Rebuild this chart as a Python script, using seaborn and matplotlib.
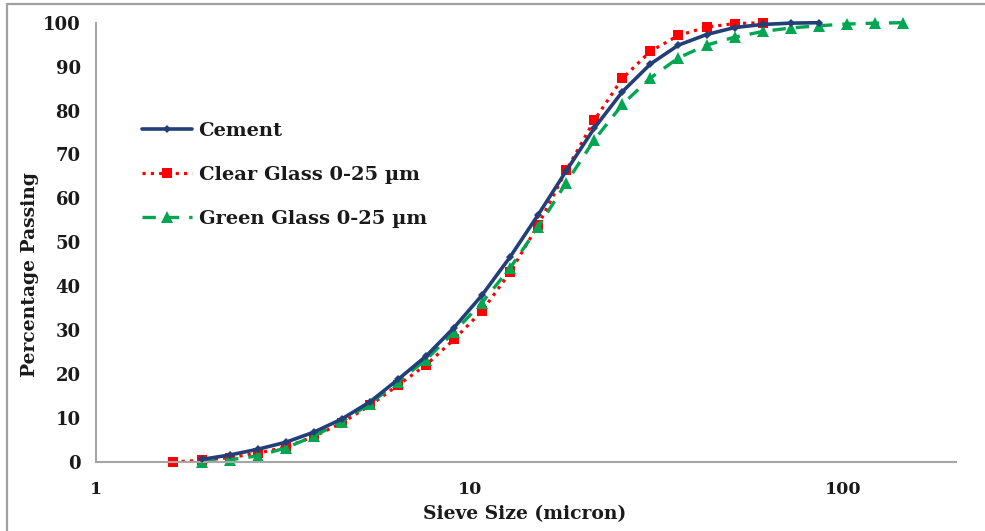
import matplotlib
matplotlib.use("Agg")
import matplotlib.pyplot as plt
from matplotlib.lines import Line2D
from matplotlib.ticker import FixedLocator, NullFormatter
import seaborn as sns
import pandas as pd

# Particle size channels (micron)
sizes = [1.61, 1.92, 2.28, 2.71, 3.22, 3.83, 4.55, 5.41, 6.43, 7.64, 9.08,
         10.79, 12.83, 15.25, 18.13, 21.54, 25.61, 30.44, 36.18, 43.0,
         51.1, 60.8, 72.2, 85.8, 102.0, 121.3, 144.1]

# Cumulative percentage passing
cement = [0.6, 1.6, 2.9, 4.5, 6.8, 9.8, 13.7, 18.8, 24.1, 30.6, 38.0, 46.7,
          56.3, 66.3, 76.0, 84.3, 90.6, 94.9, 97.3, 98.9, 99.6, 99.9, 100.0]
clear_glass = [0.0, 0.4, 1.0, 2.0, 3.4, 5.8, 8.9, 12.9, 17.5, 22.1, 27.9,
               34.4, 43.2, 54.0, 66.4, 77.8, 87.3, 93.5, 97.1, 99.0, 99.8,
               100.0]
green_glass = [0.1, 0.5, 1.4, 3.2, 5.9, 9.2, 13.3, 18.3, 23.3, 29.6, 36.3,
               44.2, 53.5, 63.6, 73.3, 81.4, 87.4, 92.0, 94.9, 96.7, 98.0,
               98.8, 99.3, 99.7, 99.9, 100.0]

series_names = ["Cement", "Clear Glass 0-25 \u00b5m", "Green Glass 0-25 \u00b5m"]
y_ticks = [0, 10, 20, 30, 40, 50, 60, 70, 80, 90, 100]
x_major = [1, 10, 100]
x_major_labels = ["1", "10", "100"]

cement_df = pd.DataFrame({"size": sizes[1:1 + len(cement)], "passing": cement})
clear_df = pd.DataFrame({"size": sizes[:len(clear_glass)], "passing": clear_glass})
green_df = pd.DataFrame({"size": sizes[1:1 + len(green_glass)], "passing": green_glass})

sns.set_theme(style="white")
plt.rcParams["font.family"] = ["DejaVu Serif"]
plt.rcParams["font.weight"] = "bold"

fig = plt.figure(figsize=(9.85, 5.31), dpi=100)
ax = fig.add_axes([96 / 985, 1 - 462 / 531, 860 / 985, (462 - 22.7) / 531])

navy = "#233F78"
red = "#FF0000"
green = "#00A651"

sns.lineplot(data=cement_df, x="size", y="passing", ax=ax, color=navy,
             linewidth=2.6, marker="D", markersize=4, markeredgewidth=0,
             label=series_names[0], zorder=3, clip_on=False)
sns.lineplot(data=clear_df, x="size", y="passing", ax=ax, color=red,
             linewidth=2.3, linestyle=(0, (1, 1.6)), marker="s", markersize=7.5,
             markeredgewidth=0, label=series_names[1], zorder=2, clip_on=False)
sns.lineplot(data=green_df, x="size", y="passing", ax=ax, color=green,
             linewidth=2.4, linestyle=(0, (4, 3)), marker="^", markersize=8,
             markeredgewidth=0, label=series_names[2], zorder=2, clip_on=False)

ax.set_xscale("log")
ax.set_xlim(1, 200)
ax.set_ylim(0, 100)

ax.xaxis.set_major_locator(FixedLocator(x_major))
ax.set_xticklabels(x_major_labels)
minor = [v * d for d in (1, 10) for v in range(2, 10)] + [200]
ax.xaxis.set_minor_locator(FixedLocator(minor))
ax.xaxis.set_minor_formatter(NullFormatter())
ax.set_yticks(y_ticks)
ax.set_yticklabels([str(v) for v in y_ticks])

spine_col = "#A6A6A6"
for side in ("top", "right"):
    ax.spines[side].set_visible(False)
for side in ("left", "bottom"):
    ax.spines[side].set_color(spine_col)
    ax.spines[side].set_linewidth(1.5)

ax.tick_params(axis="both", which="both", direction="out", colors=spine_col,
               labelcolor="#1A1A1A", width=1.0)
ax.tick_params(axis="x", which="major", length=5, pad=9, labelsize=12.5)
ax.tick_params(axis="x", which="minor", length=5)
ax.tick_params(axis="y", which="major", length=6, pad=5, labelsize=13)
ax.tick_params(axis="y", which="minor", length=0)
for lbl in ax.get_xticklabels() + ax.get_yticklabels():
    lbl.set_fontweight("bold")

ax.set_xlabel("Sieve Size (micron)", fontsize=13.5, fontweight="bold",
              color="#1A1A1A")
ax.xaxis.set_label_coords(0.498, -0.098)
ax.set_ylabel("Percentage Passing", fontsize=13.5, fontweight="bold",
              color="#1A1A1A", va="center")
ax.yaxis.set_label_coords(-0.077, 0.426)

leg = ax.legend(loc="upper left", bbox_to_anchor=(0.053, 0.775), frameon=False,
                borderpad=0, borderaxespad=0, handlelength=2.6,
                handletextpad=0.33, labelspacing=1.35,
                prop={"weight": "bold", "size": 14, "family": "DejaVu Serif"})
for t in leg.get_texts():
    t.set_color("#1A1A1A")

# Chart-area border along the top and left edges
fig.add_artist(Line2D([7 / 985, 1.0], [1 - 4 / 531, 1 - 4 / 531],
                      transform=fig.transFigure, color="#A0A0A0", lw=1.6))
fig.add_artist(Line2D([7 / 985, 7 / 985], [0.0, 1 - 4 / 531],
                      transform=fig.transFigure, color="#A0A0A0", lw=1.6))

fig.savefig("out.png", dpi=100)
